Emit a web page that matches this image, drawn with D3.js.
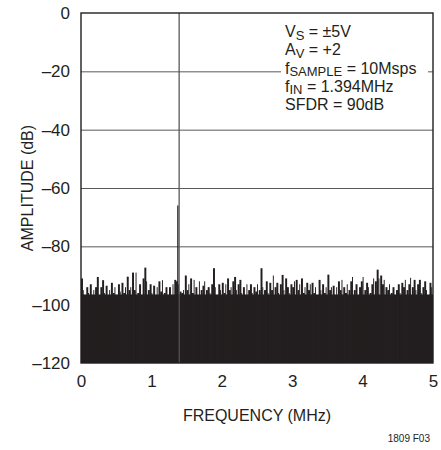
<!DOCTYPE html>
<html>
<head>
<meta charset="utf-8">
<script src="https://cdn.jsdelivr.net/npm/d3@7"></script>
<style>
  body { margin: 0; background: #fff; }
  svg { font-family: "Liberation Sans", Arial, sans-serif; }
</style>
</head>
<body>
<svg id="chart" width="441" height="450"></svg>
<script>
// spectrum data (MHz, dBFS)
const yTicks = [0, -20, -40, -60, -80, -100, -120];
const xTicks = [0, 1, 2, 3, 4, 5];
const binStep = 0.025; // MHz between noise readings
const noiseDb = [
  -91, -95, -97, -94, -96, -93, -97, -95, -94, -90.5,
  -97, -94, -91.6, -96, -93.5, -98, -95, -92.5, -96, -94,
  -97, -93, -95.5, -92.5, -96, -94, -90.4, -95, -94, -89,
  -95, -89, -96, -93, -97, -91, -87.3, -92, -95, -93,
  -96, -93.5, -97, -94, -92, -95.5, -91.6, -96, -94, -98,
  -94, -97, -93, -91.5, -92, -93, -95.5, -96, -95, -90,
  -95, -93, -91, -96, -91.5, -94, -97, -92, -95, -93.5,
  -92, -95, -94, -96, -93, -87.5, -94, -97, -93, -95,
  -92.5, -96, -93, -91, -95, -94, -92, -90.5, -95, -93,
  -91.5, -96, -94, -97, -93, -95, -93, -96, -94, -95.5,
  -93, -95, -87.5, -94, -95, -92, -96, -92.5, -95, -90,
  -94, -92.5, -96, -93, -89.8, -95, -91, -94, -96, -93,
  -94, -92, -91.5, -95, -93, -91, -96, -94, -92.5, -95,
  -93, -92.5, -96, -94, -97, -91.5, -95, -93, -96, -94,
  -89.7, -95, -94, -93.5, -97, -94, -92, -95, -91.5, -94,
  -96, -93, -95, -92, -90.5, -95, -93, -97, -94, -92,
  -90.5, -95, -92.5, -94, -96, -93, -91, -92, -88, -91,
  -90, -93, -91.5, -94, -95, -93, -96, -94, -97, -95,
  -93, -96, -92.5, -94, -91.5, -95, -93, -90.8, -94, -91.5,
  -95, -93, -91.5, -96, -94, -92, -95, -97, -92.5, -94
];
const floorDb = -96.5;
const toneF = [1.394, 1.375];
const toneDb = [0, -66];
const notes = [
  ["V", "S", " = ±5V"],
  ["A", "V", " = +2"],
  ["f", "SAMPLE", " = 10Msps"],
  ["f", "IN", " = 1.394MHz"],
  ["SFDR = 90dB", "", ""]
];

const plotL = 81, plotR = 433, plotT = 13, plotB = 363;
const ink = "#231f20";

const svg = d3.select("#chart");
const x = d3.scaleLinear().domain([0, 5]).range([plotL, plotR]);
const y = d3.scaleLinear().domain([-120, 0]).range([plotB, plotT]);

// gridlines
svg.append("g")
  .attr("transform", `translate(${plotL},0)`)
  .call(d3.axisLeft(y).tickValues(yTicks.slice(1, -1)).tickSize(-(plotR - plotL)).tickFormat(""))
  .call((g) => g.select(".domain").remove())
  .call((g) => g.selectAll("line").attr("stroke", "#58595b").attr("stroke-width", 1));

// noise floor
const barW = x(binStep) - x(0);
svg.append("rect")
  .attr("x", x(0))
  .attr("y", y(floorDb))
  .attr("width", x(5) - x(0))
  .attr("height", y(-120) - y(floorDb))
  .attr("fill", ink);

svg.append("g")
  .selectAll("rect")
  .data(noiseDb)
  .enter()
  .append("rect")
  .attr("x", (d, i) => x(i * binStep))
  .attr("y", (d) => y(d))
  .attr("width", (d, i) => (i % 3 === 1 ? barW * 0.55 : barW + 0.2))
  .attr("height", (d) => y(-120) - y(d))
  .attr("fill", ink);

// fundamental
svg.append("g")
  .selectAll("line")
  .data(toneF)
  .enter()
  .append("line")
  .attr("x1", (d) => x(d))
  .attr("x2", (d) => x(d))
  .attr("y1", y(-120))
  .attr("y2", (d, i) => y(toneDb[i]))
  .attr("stroke", (d, i) => (i === 0 ? "#58595b" : ink))
  .attr("stroke-width", (d, i) => (i === 0 ? 1.3 : 1.2));

// condition box
const box = svg.append("g");
box.append("rect")
  .attr("x", 281).attr("y", plotT + 1)
  .attr("width", 147).attr("height", 104)
  .attr("fill", "#fff");
const noteText = box.append("g")
  .attr("font-size", 16)
  .attr("fill", ink);
notes.forEach((n, i) => {
  const t = noteText.append("text").attr("x", 285).attr("y", 37 + i * 18.3);
  t.append("tspan").text(n[0]);
  if (n[1]) {
    t.append("tspan").attr("font-size", 13).attr("dy", 2.5).text(n[1]);
    t.append("tspan").attr("dy", -2.5).text(n[2]);
  }
});

// frame
svg.append("rect")
  .attr("x", plotL).attr("y", plotT)
  .attr("width", plotR - plotL).attr("height", plotB - plotT)
  .attr("fill", "none")
  .attr("stroke", ink)
  .attr("stroke-width", 1.4);

// axes labels
const fmt = (d) => (d < 0 ? "\u2013" + Math.abs(d) : String(d));
svg.append("g")
  .attr("transform", `translate(${plotL},0)`)
  .call(d3.axisLeft(y).tickValues(yTicks).tickSize(0).tickPadding(11).tickFormat(fmt))
  .call((g) => g.select(".domain").remove())
  .call((g) => g.selectAll("text").attr("font-size", 17).attr("font-family", null).attr("fill", ink));

svg.append("g")
  .attr("transform", `translate(0,${plotB})`)
  .call(d3.axisBottom(x).tickValues(xTicks).tickSize(0).tickPadding(12).tickFormat(fmt))
  .call((g) => g.select(".domain").remove())
  .call((g) => g.selectAll("text").attr("font-size", 17).attr("font-family", null).attr("fill", ink));

svg.append("text")
  .attr("transform", `translate(33,${(plotT + plotB) / 2}) rotate(-90)`)
  .attr("text-anchor", "middle")
  .attr("font-size", 16)
  .attr("fill", ink)
  .text("AMPLITUDE (dB)");

svg.append("text")
  .attr("x", (plotL + plotR) / 2)
  .attr("y", 421)
  .attr("text-anchor", "middle")
  .attr("font-size", 16)
  .attr("fill", ink)
  .text("FREQUENCY (MHz)");

svg.append("text")
  .attr("x", 430)
  .attr("y", 442)
  .attr("text-anchor", "end")
  .attr("font-size", 10)
  .attr("fill", ink)
  .text("1809 F03");
</script>
</body>
</html>
